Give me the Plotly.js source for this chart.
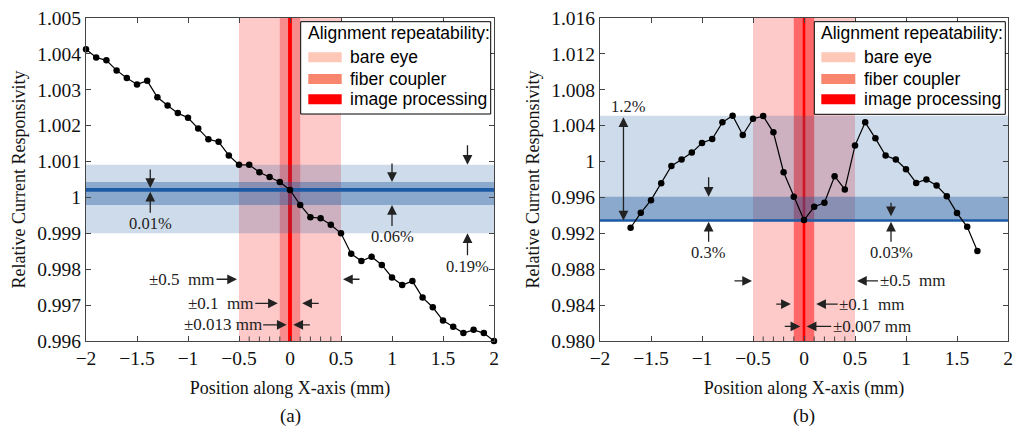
<!DOCTYPE html>
<html><head><meta charset="utf-8">
<script src="https://cdn.plot.ly/plotly-3.0.1.min.js"></script>
<style>html,body{margin:0;padding:0;background:#fff}#chart{width:1014px;height:429px}</style>
</head><body><div id="chart"></div>
<script>
// ---------- Panel (a) data ----------
const xA = [-2,-1.9,-1.8,-1.7,-1.6,-1.5,-1.4,-1.3,-1.2,-1.1,-1,-0.9,-0.8,-0.7,-0.6,-0.5,-0.4,-0.3,-0.2,-0.1,0,
            0.1,0.2,0.3,0.4,0.5,0.6,0.7,0.8,0.9,1,1.1,1.2,1.3,1.4,1.5,1.6,1.7,1.8,1.9,2];
const yA = [1.00413,1.0039,1.00382,1.00354,1.00333,1.00315,1.00325,1.00279,1.00256,1.00235,1.00222,1.00192,1.00162,1.00155,1.00117,1.00091,1.00091,1.0007,1.00057,1.00043,1.00021,
            0.99979,0.99945,0.99942,0.99924,0.999,0.99843,0.99823,0.99835,0.99812,0.99777,0.99756,0.99767,0.99721,0.99694,0.99657,0.9964,0.99622,0.99631,0.99622,0.996];
// ---------- Panel (b) data ----------
const xB = [-1.7,-1.6,-1.5,-1.4,-1.3,-1.2,-1.1,-1,-0.9,-0.8,-0.7,-0.6,-0.5,-0.4,-0.3,-0.2,-0.1,0,
            0.1,0.2,0.3,0.4,0.5,0.6,0.7,0.8,0.9,1,1.1,1.2,1.3,1.4,1.5,1.6,1.7];
const yB = [0.99262,0.99429,0.9957,0.99759,0.99951,1.00022,1.001,1.00207,1.00251,1.00437,1.00511,1.00296,1.00478,1.00507,1.00326,0.99881,0.99607,0.99348,
            0.99496,0.9954,0.99837,0.99689,1.00178,1.00437,1.00259,1.00067,1.00022,0.99914,0.99762,0.998,0.99733,0.99614,0.99426,0.99273,0.99003];

// ---------- ticks ----------
const xTickVals = [-2,-1.5,-1,-0.5,0,0.5,1,1.5,2];
const xTickText = ['\u22122','\u22121.5','\u22121','\u22120.5','0','0.5','1','1.5','2'];
const xMinorTicks = [-0.4,-0.3,-0.2,-0.1,0.1,0.2,0.3,0.4];
const yTickValsA = [0.996,0.997,0.998,0.999,1,1.001,1.002,1.003,1.004,1.005];
const yTickTextA = ['0.996','0.997','0.998','0.999','1','1.001','1.002','1.003','1.004','1.005'];
const yTickValsB = [0.980,0.984,0.988,0.992,0.996,1,1.004,1.008,1.012,1.016];
const yTickTextB = ['0.980','0.984','0.988','0.992','0.996','1','1.004','1.008','1.012','1.016'];

// ---------- alignment repeatability (half widths, mm): bare eye, fiber coupler, image processing ----------
const repeatNames = ['bare eye','fiber coupler','image processing'];
const repeatA = [0.5, 0.1, 0.013];
const repeatB = [0.5, 0.1, 0.007];
const mmLabelsA = ['\u00b10.5\u00a0 mm','\u00b10.1\u00a0 mm','\u00b10.013 mm'];
const mmLabelsB = ['\u00b10.5\u00a0 mm','\u00b10.1\u00a0 mm','\u00b10.007 mm'];

// ---------- responsivity variation bands [low, high] ----------
const wideA = [0.999, 1.00091];
const midA  = [0.99979, 1.00043];
const fineA = [1.00016, 1.00026];
const pctA  = ['0.01%','0.06%','0.19%'];
const wideB = [0.99343, 1.00511];
const midB  = [0.99343, 0.99607];
const fineB = [0.99328, 0.99358];
const pctB  = ['1.2%','0.3%','0.03%'];

// ---------- geometry ----------
const W = 1014, H = 429;
const M = {l: 86, r: 6, t: 18, b: 88};
const PW = W - M.l - M.r, PH = H - M.t - M.b;
const px = v => (v - M.l) / PW;          // page px -> paper x
const py = v => (H - M.b - v) / PH;      // page px -> paper y
const SHIFT_B = -3;                      // panel (b) nudged left so its last tick label fits

const SERIF = 'Liberation Serif, Times New Roman, serif';
const SANS = 'Liberation Sans, Arial, sans-serif';
const INK = '#222';

const bandFill = {
  A: ['rgb(254,201,201)', 'rgb(248,140,140)', 'rgb(255,0,0)'],
  B: ['rgb(254,201,201)', 'rgb(255,104,104)', 'rgb(255,0,0)']
};
const legendFill = ['rgb(253,200,184)', 'rgb(248,134,110)', 'rgb(255,0,0)'];

function panelShapes(xr, yr, rep, fills, wide, mid, fine) {
  const s = [];
  rep.forEach((h, i) => {
    s.push({type:'rect', xref:xr, yref:yr+' domain', x0:-h, x1:h, y0:0, y1:1,
      fillcolor:fills[i], line:{width: i === 2 ? 1.2 : 0, color:fills[i]}, layer:'below'});
  });
  s.push({type:'rect', xref:xr+' domain', yref:yr, x0:0, x1:1, y0:wide[0], y1:wide[1],
    fillcolor:'rgba(30,90,160,0.22)', line:{width:0}, layer:'below'});
  s.push({type:'rect', xref:xr+' domain', yref:yr, x0:0, x1:1, y0:mid[0], y1:mid[1],
    fillcolor:'rgba(30,90,160,0.39)', line:{width:0}, layer:'below'});
  s.push({type:'rect', xref:xr+' domain', yref:yr, x0:0, x1:1, y0:fine[0], y1:fine[1],
    fillcolor:'#1d5aa5', line:{width:0}, layer:'below'});
  xMinorTicks.forEach(t => {
    s.push({type:'line', xref:xr, yref:yr+' domain', x0:t, x1:t, y0:0, y1:0.014,
      line:{color:'#444', width:1}, layer:'above'});
  });
  return s;
}

function legendItems(box, patchX0, patchX1, textX, titleY, rowY) {
  const shapes = [], anns = [];
  shapes.push({type:'rect', xref:'paper', yref:'paper', x0:px(box[0]), x1:px(box[2]), y0:py(box[3]), y1:py(box[1]),
    fillcolor:'#fff', line:{color:'#000', width:1}, layer:'above'});
  anns.push({xref:'paper', yref:'paper', x:px(box[0]+5), y:py(titleY), xanchor:'left', yanchor:'middle',
    text:'Alignment repeatability:', showarrow:false, font:{family:SANS, size:17.5, color:'#000'}});
  repeatNames.forEach((n, i) => {
    shapes.push({type:'rect', xref:'paper', yref:'paper', x0:px(patchX0), x1:px(patchX1),
      y0:py(rowY[i]+5), y1:py(rowY[i]-5), fillcolor:legendFill[i], line:{width:0}, layer:'above'});
    anns.push({xref:'paper', yref:'paper', x:px(textX), y:py(rowY[i]), xanchor:'left', yanchor:'middle',
      text:n, showarrow:false, font:{family:SANS, size:17.5, color:'#000'}});
  });
  return {shapes, anns};
}

function arrow(xr, yr, x, y, ax, ay, text, size, standoff, extra) {
  return Object.assign({xref:xr, yref:yr, x:x, y:y, ax:ax, ay:ay, text:text || '',
    showarrow:true, arrowhead:2, arrowsize:1.5, arrowwidth:1.3, arrowcolor:INK,
    standoff:standoff || 0, font:{family:SERIF, size:size || 16.5, color:INK}}, extra || {});
}

// ---------- traces ----------
const traces = [
  {x:xA, y:yA, xaxis:'x', yaxis:'y', type:'scatter', mode:'lines+markers', cliponaxis:false,
   line:{color:'#000', width:1.2}, marker:{color:'#000', size:6.5}, showlegend:false, hoverinfo:'x+y'},
  {x:xB, y:yB, xaxis:'x2', yaxis:'y2', type:'scatter', mode:'lines+markers', cliponaxis:false,
   line:{color:'#000', width:1.2}, marker:{color:'#000', size:6.5}, showlegend:false, hoverinfo:'x+y'}
];

// ---------- axes ----------
function xAxis(domain, anchor) {
  return {domain, anchor, range:[-2, 2], tickvals:xTickVals, ticktext:xTickText,
    ticks:'inside', ticklen:5, tickcolor:'#444', showline:true, linecolor:'#444', linewidth:1,
    mirror:'ticks', showgrid:false, zeroline:false, ticklabeloverflow:'allow',
    tickfont:{family:SERIF, size:19.5, color:'#111'},
    title:{text:'Position along X-axis (mm)', font:{family:SERIF, size:18, color:'#111'}, standoff:12}};
}
function yAxis(range, vals, text, anchor) {
  return {domain:[0, 1], anchor, range, tickvals:vals, ticktext:text,
    ticks:'inside', ticklen:5, tickcolor:'#444', showline:true, linecolor:'#444', linewidth:1,
    mirror:'ticks', showgrid:false, zeroline:false,
    tickfont:{family:SERIF, size:19.5, color:'#111'},
    title:{text:'Relative Current Responsivity', font:{family:SERIF, size:18, color:'#111'}, standoff:6}};
}

// ---------- shapes & annotations ----------
let shapes = [].concat(
  panelShapes('x', 'y', repeatA, bandFill.A, wideA, midA, fineA),
  panelShapes('x2', 'y2', repeatB, bandFill.B, wideB, midB, fineB)
);
const legA = legendItems([300.7, 21.7, 490.7, 114], 308.3, 341.7, 348.3, 33.3, [57.3, 79, 99.3]);
const legB = legendItems([817.3 + SHIFT_B, 21.7, 1008.3 + SHIFT_B, 114.3], 824.3 + SHIFT_B, 858.3 + SHIFT_B, 865 + SHIFT_B, 33.3, [57.3, 79, 99.3]);
shapes = shapes.concat(legA.shapes, legB.shapes);

const annotations = [
  // panel (a): percentage bands
  arrow('x','y', -1.37, fineA[1], 0, -20),
  arrow('x','y', -1.37, fineA[0], 0, 32, pctA[0]),
  arrow('x','y', 1.0, midA[1], 0, -20),
  arrow('x','y', 1.0, midA[0], 0, 32, pctA[1]),
  arrow('x','y', 1.74, wideA[1], 0, -21),
  arrow('x','y', 1.74, wideA[0], 0, 33, pctA[2]),
  // panel (a): repeatability widths
  arrow('x','y', -repeatA[0], 0.99772, -57, 0, mmLabelsA[0], 17, 2),
  arrow('x','y',  repeatA[0], 0.99772, 20, 0, '', 17, 2),
  arrow('x','y', -repeatA[1], 0.99705, -59, 0, mmLabelsA[1], 17, 2),
  arrow('x','y',  repeatA[1], 0.99705, 20, 0, '', 17, 2),
  arrow('x','y', -repeatA[2], 0.99645, -66, 0, mmLabelsA[2], 17, 2),
  arrow('x','y',  repeatA[2], 0.99645, 20, 0, '', 17, 2),
  // panel (b): percentage bands
  arrow('x2','y2', -1.77, wideB[0], -1.77, wideB[1], '', 16.5, 0, {axref:'x2', ayref:'y2', arrowside:'end+start'}),
  {xref:'x2', yref:'y2', x:-1.725, y:1.0061, text:pctB[0], showarrow:false, font:{family:SERIF, size:16.5, color:INK}},
  arrow('x2','y2', -0.935, midB[1], 0, -21),
  arrow('x2','y2', -0.935, fineB[0], 0, 31, pctB[1]),
  arrow('x2','y2', 0.853, fineB[1], 0, -18, '', 16.5, 3),
  arrow('x2','y2', 0.853, fineB[0], 0, 31, pctB[2]),
  // panel (b): repeatability widths
  arrow('x2','y2', -repeatB[0], 0.9867, -20, 0, '', 17, 1),
  arrow('x2','y2',  repeatB[0], 0.9867, 57.5, 0, mmLabelsB[0], 17, 2),
  arrow('x2','y2', -repeatB[1], 0.98411, -19, 0, '', 17, 3),
  arrow('x2','y2',  repeatB[1], 0.98411, 58, 0, mmLabelsB[1], 17, 2),
  arrow('x2','y2', -repeatB[2], 0.98162, -20, 0, '', 17, 3),
  arrow('x2','y2',  repeatB[2], 0.98162, 67, 0, mmLabelsB[2], 17, 2),
  // sub-figure labels
  {xref:'paper', yref:'paper', x:px(290), y:py(416), xanchor:'center', yanchor:'middle', text:'(a)', showarrow:false, font:{family:SERIF, size:19, color:'#111'}},
  {xref:'paper', yref:'paper', x:px(807 + SHIFT_B), y:py(416), xanchor:'center', yanchor:'middle', text:'(b)', showarrow:false, font:{family:SERIF, size:19, color:'#111'}}
].concat(legA.anns, legB.anns);

const layout = {
  width: W, height: H,
  margin: M,
  paper_bgcolor:'#fff', plot_bgcolor:'#fff',
  showlegend:false,
  xaxis: xAxis([0, px(494)], 'y'),
  yaxis: yAxis([0.996, 1.005], yTickValsA, yTickTextA, 'x'),
  xaxis2: xAxis([px(603 + SHIFT_B), px(1011 + SHIFT_B)], 'y2'),
  yaxis2: yAxis([0.980, 1.016], yTickValsB, yTickTextB, 'x2'),
  shapes, annotations
};

Plotly.newPlot('chart', traces, layout, {staticPlot:true, displayModeBar:false});
</script>
</body></html>
